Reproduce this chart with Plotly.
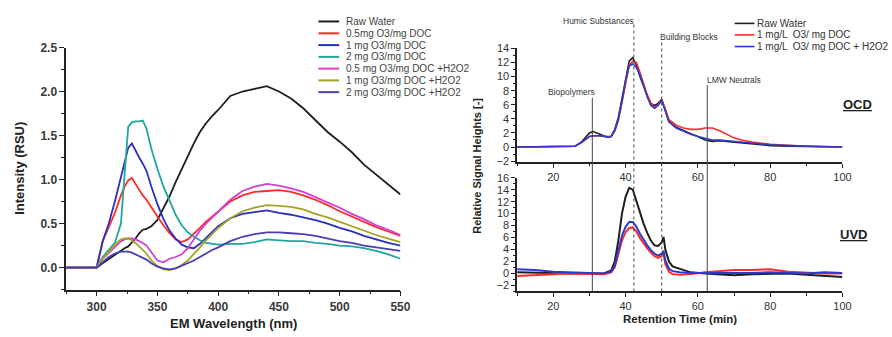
import plotly.graph_objects as go

# ---------------- Left panel: emission spectra ----------------
wavelength = [275, 300, 305, 310, 315, 320, 323, 326, 329, 332, 335, 338, 341, 345, 350,
              355, 360, 365, 370, 375, 380, 385, 390, 395, 400, 410, 420, 430, 440, 450,
              460, 470, 480, 490, 500, 510, 520, 530, 540, 550]

raw_water = [0, 0, 0.05, 0.1, 0.15, 0.2, 0.22, 0.24, 0.28, 0.33, 0.39, 0.43, 0.44, 0.47, 0.54,
             0.67, 0.81, 0.97, 1.12, 1.27, 1.41, 1.54, 1.64, 1.72, 1.79, 1.95, 2.0, 2.03, 2.06, 2.0,
             1.92, 1.81, 1.67, 1.54, 1.43, 1.31, 1.17, 1.06, 0.95, 0.83]
o3_05 = [0, 0, 0.3, 0.45, 0.62, 0.82, 0.92, 0.99, 1.02, 0.95, 0.88, 0.82, 0.77, 0.68, 0.58,
         0.48, 0.39, 0.32, 0.29, 0.32, 0.38, 0.45, 0.52, 0.58, 0.64, 0.75, 0.82, 0.86, 0.87, 0.88,
         0.86, 0.82, 0.77, 0.71, 0.64, 0.58, 0.52, 0.46, 0.41, 0.36]
o3_1 = [0, 0, 0.3, 0.5, 0.75, 1.02, 1.2, 1.36, 1.41, 1.32, 1.25, 1.18, 1.1, 0.92, 0.72,
        0.55, 0.42, 0.33, 0.26, 0.23, 0.22, 0.27, 0.34, 0.41, 0.47, 0.56, 0.61, 0.63, 0.65, 0.62,
        0.6, 0.57, 0.54, 0.5, 0.45, 0.41, 0.36, 0.32, 0.28, 0.25]
o3_2 = [0, 0, 0.12, 0.2, 0.28, 0.5, 1.1, 1.6, 1.65, 1.66, 1.66, 1.67, 1.58, 1.35, 1.12,
        0.92, 0.76, 0.6, 0.48, 0.4, 0.35, 0.31, 0.28, 0.27, 0.26, 0.27, 0.27, 0.29, 0.32, 0.31,
        0.3, 0.3, 0.28, 0.27, 0.25, 0.24, 0.22, 0.19, 0.15, 0.1]
o3_05_h2o2 = [0, 0, 0.1, 0.17, 0.24, 0.3, 0.32, 0.33, 0.33, 0.32, 0.3, 0.28, 0.25, 0.17, 0.08,
              0.06, 0.1, 0.12, 0.15, 0.22, 0.32, 0.42, 0.5, 0.57, 0.64, 0.77, 0.87, 0.92, 0.95, 0.93,
              0.9, 0.86, 0.8, 0.74, 0.68, 0.61, 0.55, 0.48, 0.43, 0.37]
o3_1_h2o2 = [0, 0, 0.1, 0.18, 0.26, 0.32, 0.33, 0.33, 0.31, 0.28, 0.24, 0.2, 0.16, 0.08, 0.02,
             -0.02, -0.03, -0.01, 0.03, 0.08, 0.15, 0.23, 0.31, 0.38, 0.45, 0.56, 0.64, 0.68, 0.71, 0.7,
             0.69, 0.66, 0.61, 0.57, 0.52, 0.47, 0.42, 0.37, 0.33, 0.29]
o3_2_h2o2 = [0, 0, 0.06, 0.12, 0.16, 0.18, 0.18, 0.18, 0.17, 0.15, 0.13, 0.11, 0.09, 0.05, 0.01,
             -0.01, -0.02, -0.01, 0.02, 0.05, 0.08, 0.12, 0.16, 0.2, 0.23, 0.3, 0.35, 0.38, 0.4, 0.4,
             0.39, 0.38, 0.36, 0.33, 0.3, 0.28, 0.25, 0.23, 0.21, 0.19]

left_names = ["Raw Water", "0.5mg O3/mg DOC", "1 mg O3/mg DOC", "2 mg O3/mg DOC",
              "0.5 mg O3/mg DOC +H2O2", "1 mg O3/mg DOC +H2O2", "2 mg O3/mg DOC +H2O2"]
left_series = [raw_water, o3_05, o3_1, o3_2, o3_05_h2o2, o3_1_h2o2, o3_2_h2o2]
left_colors = ["#1e1e1e", "#ff2b2b", "#2a2fbf", "#20a6a0", "#d23fd2", "#a3a324", "#4a3db8"]

# ---------------- Right panels: LC-OCD / UVD ----------------
ocd_time = [10, 20, 26, 28, 30, 31, 33, 35, 36, 37, 38, 39, 40, 41, 42, 43, 44, 45, 46, 47,
            48, 49, 50, 51, 52, 54, 56, 58, 60, 62, 64, 66, 68, 70, 72, 75, 80, 85, 90, 100]
ocd_raw = [0, 0, 0.1, 0.8, 2.0, 2.2, 1.8, 1.4, 1.5, 2.5, 4.2, 6.8, 9.8, 12.2, 12.7, 11.6, 10.0, 8.6, 7.3, 6.2,
           5.9, 6.2, 6.8, 5.2, 3.6, 2.8, 2.3, 1.9, 1.5, 1.0, 0.8, 0.9, 0.8, 0.7, 0.6, 0.4, 0.2, 0.1, 0.05, 0]
ocd_o3 = [0, 0, 0.1, 0.7, 1.5, 1.6, 1.6, 1.5, 1.5, 2.3, 3.8, 6.3, 9.2, 11.6, 12.2, 12.0, 10.6, 9.0, 7.4, 6.2,
          5.6, 6.0, 6.7, 5.4, 3.9, 3.1, 2.7, 2.5, 2.5, 2.7, 2.7, 2.3, 1.8, 1.3, 1.0, 0.7, 0.4, 0.2, 0.1, 0]
ocd_o3_h2o2 = [0, 0, 0.1, 0.7, 1.5, 1.6, 1.6, 1.4, 1.5, 2.3, 3.9, 6.5, 9.4, 11.5, 11.8, 11.3, 10.2, 8.7, 7.1, 5.9,
               5.5, 5.9, 6.6, 5.1, 3.6, 2.7, 2.2, 1.8, 1.5, 1.2, 1.0, 1.0, 0.9, 0.8, 0.7, 0.5, 0.3, 0.2, 0.1, 0]

uvd_time = [10, 15, 20, 25, 30, 34, 36, 37, 38, 39, 40, 41, 42, 43, 44, 45, 46, 47, 48, 49,
            50, 50.5, 51, 52, 53, 55, 58, 62, 66, 70, 75, 80, 85, 90, 95, 100]
uvd_raw = [0.2, 0.1, 0.1, 0.0, 0.0, 0.0, 0.5, 2.0, 5.5, 10.0, 12.8, 14.3, 14.0, 12.0, 10.2, 8.3, 6.8, 5.5, 4.7, 4.6,
           5.2, 6.1, 4.0, 2.0, 1.2, 0.8, 0.2, 0.0, -0.2, -0.3, -0.1, 0.0, 0.0, -0.2, -0.4, -0.6]
uvd_o3 = [-0.4, -0.2, -0.1, 0.0, 0.0, -0.1, 0.2, 1.0, 3.2, 5.5, 6.9, 7.6, 7.7, 7.0, 5.9, 5.0, 4.2, 3.5, 2.9, 2.6,
          2.9, 3.3, 1.6, 0.3, -0.1, -0.2, -0.1, 0.2, 0.4, 0.6, 0.6, 0.7, 0.3, 0.1, 0.0, 0.0]
uvd_o3_h2o2 = [0.7, 0.6, 0.3, 0.2, 0.1, 0.0, 0.3, 1.3, 3.8, 6.3, 7.8, 8.6, 8.6, 7.8, 6.6, 5.6, 4.7, 3.9, 3.3, 3.0,
               3.3, 3.8, 2.2, 0.8, 0.4, 0.2, 0.1, 0.1, 0.1, 0.0, 0.1, 0.2, 0.1, 0.0, 0.2, 0.1]

right_names = ["Raw Water", "1 mg/L  O3/ mg DOC", "1 mg/L  O3/ mg DOC + H2O2"]
right_colors = ["#1e1e1e", "#ff2b2b", "#2b3bd0"]

fraction_names = ["Biopolymers", "Humic Substances", "Building Blocks", "LMW Neutrals"]
fraction_times = [30.8, 42.3, 50.0, 62.6]

W, H = 892, 337
def px(x): return x / W
def py(y): return 1 - y / H

FONT = "Liberation Sans, Arial, sans-serif"

fig = go.Figure()
for name, ys, col in zip(left_names, left_series, left_colors):
    fig.add_trace(go.Scatter(x=wavelength, y=ys, mode="lines", name=name,
                             line=dict(color=col, width=1.8), xaxis="x", yaxis="y",
                             showlegend=False))
for name, ys, col in zip(right_names, [ocd_raw, ocd_o3, ocd_o3_h2o2], right_colors):
    fig.add_trace(go.Scatter(x=ocd_time, y=ys, mode="lines", name=name,
                             line=dict(color=col, width=1.6), xaxis="x2", yaxis="y2",
                             showlegend=False))
for name, ys, col in zip(right_names, [uvd_raw, uvd_o3, uvd_o3_h2o2], right_colors):
    fig.add_trace(go.Scatter(x=uvd_time, y=ys, mode="lines", name=name,
                             line=dict(color=col, width=2.0), xaxis="x3", yaxis="y3",
                             showlegend=False))

axis_common = dict(showline=True, linecolor="#222", linewidth=1.5, ticks="outside",
                   tickcolor="#222", tickwidth=1.3, showgrid=False, zeroline=False)

left_tick = dict(family=FONT, size=12, color="#3a3a3a", weight="bold")
right_tick = dict(family=FONT, size=11, color="#333")

fig.update_layout(
    width=W, height=H, margin=dict(l=0, r=0, t=0, b=0),
    paper_bgcolor="white", plot_bgcolor="white", showlegend=False,
    xaxis=dict(domain=[px(67), px(405)], range=[275, 550], tick0=300, dtick=50,
               ticklen=5, tickfont=left_tick, anchor="y",
               minor=dict(ticks="outside", dtick=25, tick0=275, ticklen=3, tickcolor="#222"),
               **axis_common),
    yaxis=dict(domain=[py(293), py(42)], range=[-0.25, 2.5], tick0=0, dtick=0.5,
               tickformat=".1f", ticklen=5, tickfont=left_tick, anchor="x",
               minor=dict(ticks="outside", dtick=0.25, tick0=0, ticklen=3, tickcolor="#222"),
               **axis_common),
    xaxis2=dict(domain=[px(523), px(852)], range=[10, 100], tick0=20, dtick=20,
                ticklen=4, tickfont=right_tick, anchor="y2",
                minor=dict(ticks="outside", dtick=10, tick0=10, ticklen=2.5, tickcolor="#222"),
                **axis_common),
    yaxis2=dict(domain=[py(160.5), py(43)], range=[-2.1, 14], tick0=-2, dtick=2,
                ticklen=4, tickfont=right_tick, anchor="x2",
                minor=dict(ticks="outside", dtick=1, tick0=-2, ticklen=2.5, tickcolor="#222"),
                **axis_common),
    xaxis3=dict(domain=[px(523), px(852)], range=[10, 100], tick0=20, dtick=20,
                ticklen=4, tickfont=right_tick, anchor="y3",
                minor=dict(ticks="outside", dtick=10, tick0=10, ticklen=2.5, tickcolor="#222"),
                **axis_common),
    yaxis3=dict(domain=[py(295), py(177)], range=[-3, 16], tick0=-2, dtick=2,
                ticklen=4, tickfont=right_tick, anchor="x3",
                minor=dict(ticks="outside", dtick=1, tick0=-2, ticklen=2.5, tickcolor="#222"),
                **axis_common),
)

ann = []
shapes = []

def text_ann(text, x, y, size, color="#222", bold=False, xanchor="center", angle=0):
    f = dict(family=FONT, size=size, color=color)
    if bold:
        f["weight"] = "bold"
    return dict(text=text, x=px(x), y=py(y), xref="paper", yref="paper", showarrow=False,
                xanchor=xanchor, yanchor="middle", textangle=angle, font=f)

# axis titles
ann.append(text_ann("Intensity (RSU)", 19, 167, 13, bold=True, angle=-90))
ann.append(text_ann("EM Wavelength (nm)", 236, 328, 13, bold=True))
ann.append(text_ann("Relative Signal Heights [-]", 483, 165, 11, bold=True, angle=-90))
ann.append(text_ann("Retention Time (min)", 688, 324, 11.5, bold=True))

# left legend (manual, compact)
leg_rows = [15, 27.3, 39.5, 51.7, 63.9, 76.1, 88.3]
for name, col, ry in zip(left_names, left_colors, leg_rows):
    shapes.append(dict(type="line", xref="paper", yref="paper", x0=px(322), x1=px(343),
                       y0=py(ry), y1=py(ry), line=dict(color=col, width=2)))
    ann.append(text_ann(name, 348, ry, 10, color="#444", xanchor="left"))

# right legend
rleg_rows = [17, 29, 41]
for name, col, ry in zip(right_names, right_colors, rleg_rows):
    shapes.append(dict(type="line", xref="paper", yref="paper", x0=px(743), x1=px(763),
                       y0=py(ry), y1=py(ry), line=dict(color=col, width=1.6)))
    ann.append(text_ann(name, 764, ry, 10, color="#333", xanchor="left"))

# fraction marker lines and labels
line_tops = [94, 18, 36, 81]
line_dash = ["solid", "dot", "dot", "solid"]
label_pos = [(578, 88), (605, 14), (697, 31), (742, 76)]
for name, t, top, dash, (lx, ly) in zip(fraction_names, fraction_times, line_tops, line_dash, label_pos):
    shapes.append(dict(type="line", xref="x2", yref="paper", x0=t, x1=t,
                       y0=py(295), y1=py(top), line=dict(color="#444", width=1, dash=dash)))
    ann.append(text_ann(name, lx, ly, 8.5, color="#333"))

ann.append(text_ann("<b><u>OCD</u></b>", 867, 101, 13))
ann.append(text_ann("<b><u>UVD</u></b>", 863, 236, 13))

fig.update_layout(annotations=ann, shapes=shapes)
fig.write_html("out.html", config={"displayModeBar": False},
               post_script="document.body.style.margin='0';")
